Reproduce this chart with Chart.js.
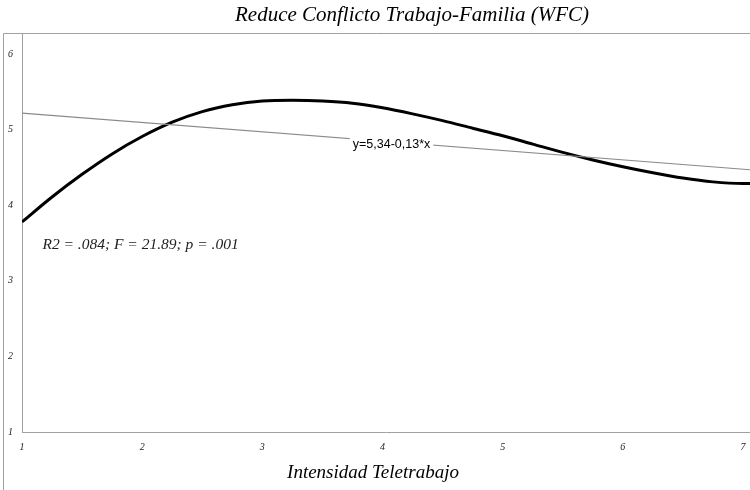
<!DOCTYPE html>
<html>
<head>
<meta charset="utf-8">
<script src="https://cdn.jsdelivr.net/npm/chart.js@4/dist/chart.umd.min.js"></script>
<style>
  html, body { margin: 0; padding: 0; background: #fff; }
  #wrap { width: 750px; height: 490px; position: relative; }
</style>
</head>
<body>
<div id="wrap"><canvas id="c" width="750" height="490"></canvas></div>
<script>
// Values
const curveX = [1, 1.25, 1.5, 1.75, 2, 2.25, 2.5, 2.75, 3, 3.25, 3.5, 3.75, 4, 4.25, 4.5, 4.75, 5, 5.25, 5.5, 5.75, 6, 6.25, 6.5, 6.75, 7, 7.06];
const curveY = [3.78, 4.11, 4.41, 4.68, 4.91, 5.10, 5.24, 5.33, 5.38, 5.39, 5.38, 5.35, 5.29, 5.21, 5.12, 5.02, 4.92, 4.81, 4.70, 4.60, 4.51, 4.43, 4.36, 4.31, 4.29, 4.29];
const linX = [1, 7.06];
const linY = [5.22, 4.47];
const xTicks = [1, 2, 3, 4, 5, 6, 7];
const yTicks = [1, 2, 3, 4, 5, 6];
const titleText = 'Reduce Conflicto Trabajo-Familia (WFC)';
const xTitleText = 'Intensidad Teletrabajo';
const eqText = 'y=5,34-0,13*x';
const eqPos = [4.075, 4.81];
const statText = 'R2 = .084; F = 21.89; p = .001';
const statPos = [1.17, 3.47];

const serif = '"Liberation Serif", "DejaVu Serif", serif';

const overlay = {
  id: 'overlay',
  afterDatasetsDraw(chart) {
    const ctx = chart.ctx;
    const xs = chart.scales.x, ys = chart.scales.y;
    const ca = chart.chartArea;
    ctx.save();
    // frame lines
    ctx.strokeStyle = '#a0a0a0';
    ctx.lineWidth = 1;
    ctx.beginPath();
    ctx.moveTo(3.5, 490);
    ctx.lineTo(3.5, ca.top + 0.5);
    ctx.lineTo(750, ca.top + 0.5);
    ctx.stroke();
    // equation label with white box
    ctx.font = '12.5px "Liberation Sans", Arial, sans-serif';
    ctx.textAlign = 'center';
    ctx.textBaseline = 'middle';
    const ex = xs.getPixelForValue(eqPos[0]);
    const ey = ys.getPixelForValue(eqPos[1]);
    const w = ctx.measureText(eqText).width;
    ctx.fillStyle = '#fff';
    ctx.fillRect(ex - w / 2 - 3, ey - 7, w + 6, 14);
    ctx.fillStyle = '#000';
    ctx.fillText(eqText, ex, ey);
    // stats annotation
    ctx.font = 'italic 15.5px ' + serif;
    ctx.textAlign = 'left';
    ctx.fillStyle = '#222';
    ctx.fillText(statText, xs.getPixelForValue(statPos[0]), ys.getPixelForValue(statPos[1]));
    // title
    ctx.font = 'italic 21px ' + serif;
    ctx.textAlign = 'center';
    ctx.fillStyle = '#000';
    ctx.fillText(titleText, 412, 15);
    // x axis title
    ctx.font = 'italic 19px ' + serif;
    ctx.fillText(xTitleText, 373, 473);
    ctx.restore();
  }
};

new Chart(document.getElementById('c'), {
  type: 'line',
  data: {
    datasets: [
      {
        data: linX.map((x, i) => ({ x: x, y: linY[i] })),
        borderColor: '#8a8a8a',
        borderWidth: 1.2,
        pointRadius: 0,
        tension: 0
      },
      {
        data: curveX.map((x, i) => ({ x: x, y: curveY[i] })),
        borderColor: '#000',
        borderWidth: 3,
        pointRadius: 0,
        cubicInterpolationMode: 'monotone'
      }
    ]
  },
  options: {
    responsive: false,
    animation: false,
    devicePixelRatio: 1,
    layout: { autoPadding: false, padding: { left: 0, right: 0, top: 33, bottom: 0 } },
    plugins: { legend: { display: false }, tooltip: { enabled: false }, title: { display: false } },
    scales: {
      x: {
        type: 'linear',
        min: 1,
        max: 7.058,
        afterBuildTicks: s => { s.ticks = xTicks.map(v => ({ value: v })); },
        afterFit: s => { s.height = 58; s.paddingLeft = 0; s.paddingRight = 0; },
        grid: { display: false, drawTicks: false },
        border: { display: true, color: '#a0a0a0', width: 1 },
        ticks: { padding: 9, color: '#222', font: { family: serif, style: 'italic', size: 10 }, maxRotation: 0 }
      },
      y: {
        type: 'linear',
        min: 1,
        max: 6.28,
        afterBuildTicks: s => { s.ticks = yTicks.map(v => ({ value: v })); },
        afterFit: s => { s.width = 22; s.paddingTop = 0; s.paddingBottom = 0; },
        grid: { display: false, drawTicks: false },
        border: { display: true, color: '#a0a0a0', width: 1 },
        ticks: { padding: 9, color: '#222', font: { family: serif, style: 'italic', size: 10 } }
      }
    }
  },
  plugins: [overlay]
});
</script>
</body>
</html>
